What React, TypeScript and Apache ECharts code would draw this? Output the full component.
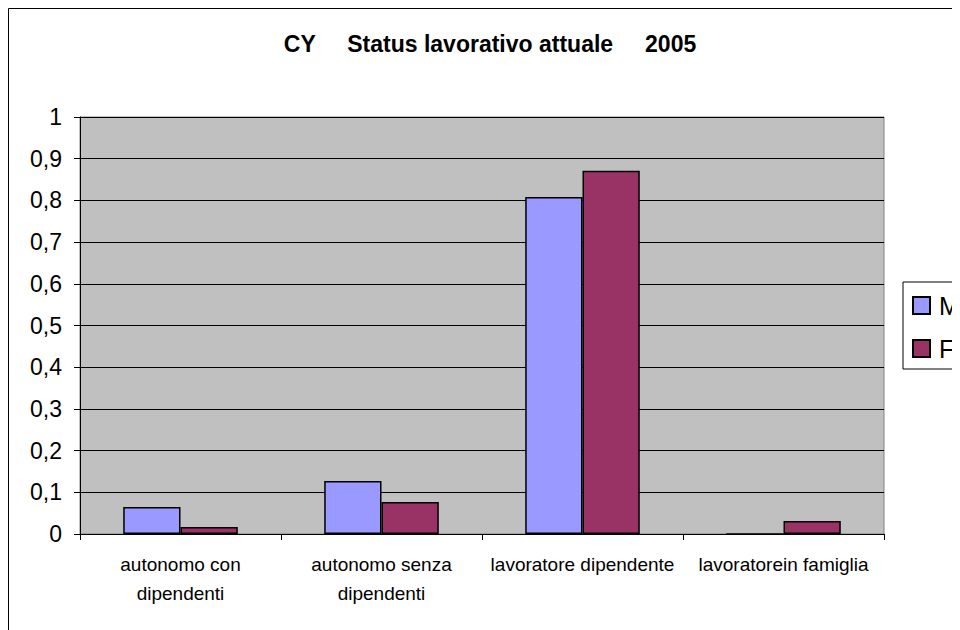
import React, { useEffect, useRef } from "react";
import * as echarts from "echarts";

const categories = ["autonomo con\ndipendenti", "autonomo senza\ndipendenti", "lavoratore dipendente", "lavoratorein famiglia"];
const seriesNames = ["M", "F"];
const valuesM = [0.065, 0.127, 0.808, 0];
const valuesF = [0.017, 0.077, 0.871, 0.031];
const yTicks = [0, 0.1, 0.2, 0.3, 0.4, 0.5, 0.6, 0.7, 0.8, 0.9, 1];
const titleText = "CY     Status lavorativo attuale     2005";

const FONT = "'Liberation Sans', Arial, sans-serif";

export default function App() {
  const ref = useRef<HTMLDivElement>(null);
  useEffect(() => {
    const prevOverflow = document.body.style.overflow;
    document.body.style.overflow = "hidden";
    const chart = echarts.init(ref.current!, null, { renderer: "svg" });
    chart.setOption({
      animation: false,
      textStyle: { fontFamily: FONT },
      grid: { left: 72, top: 109, width: 804, height: 417, show: true, backgroundColor: "#C0C0C0", borderColor: "#808080", borderWidth: 1 },
      graphic: [
        { type: "line", shape: { x1: 0.5, y1: 0.5, x2: 0.5, y2: 700 }, style: { stroke: "#000", lineWidth: 1 }, z: -10 },
        { type: "line", shape: { x1: 0.5, y1: 0.5, x2: 1000, y2: 0.5 }, style: { stroke: "#000", lineWidth: 1 }, z: -10 },
        { type: "text", x: 482, y: 36, style: { text: titleText, font: `bold 23px ${FONT}`, fill: "#000", align: "center", verticalAlign: "middle" } },
      ],
      legend: {
        orient: "vertical",
        left: 895,
        top: 274,
        data: seriesNames,
        itemWidth: 17,
        itemHeight: 17,
        itemGap: 18,
        padding: [11, 20, 8, 9],
        borderColor: "#000",
        borderWidth: 1,
        backgroundColor: "#fff",
        textStyle: { fontSize: 25, fontFamily: FONT, color: "#000", padding: [0, 0, 0, 4] },
        icon: "rect",
      },
      xAxis: {
        type: "category",
        data: categories,
        axisLine: { lineStyle: { color: "#000", width: 1 } },
        axisTick: { show: true, length: 6, lineStyle: { color: "#000" } },
        axisLabel: { fontSize: 19, color: "#000", lineHeight: 29, margin: 16, interval: 0, fontFamily: FONT },
      },
      yAxis: {
        type: "value",
        min: 0,
        max: 1,
        interval: 0.1,
        axisLine: { show: true, lineStyle: { color: "#000", width: 1 } },
        axisTick: { show: true, length: 6, lineStyle: { color: "#000" } },
        splitLine: { lineStyle: { color: "#000", width: 1 } },
        axisLabel: {
          fontSize: 23,
          color: "#000",
          margin: 18,
          fontFamily: FONT,
          formatter: (v: number) => {
            const t = yTicks.find((x) => Math.abs(x - v) < 1e-9);
            return String(Math.round((t ?? v) * 10) / 10).replace(".", ",");
          },
        },
      },
      series: [
        { name: "M", type: "bar", data: valuesM, barGap: "0%", barCategoryGap: "43%", itemStyle: { color: "#9999FF", borderColor: "#000", borderWidth: 1.5 } },
        { name: "F", type: "bar", data: valuesF, barGap: "0%", barCategoryGap: "43%", itemStyle: { color: "#993366", borderColor: "#000", borderWidth: 1.5 } },
      ],
    });
    return () => {
      chart.dispose();
      document.body.style.overflow = prevOverflow;
    };
  }, []);
  return <div ref={ref} style={{ width: 952, height: 622 }} />;
}
